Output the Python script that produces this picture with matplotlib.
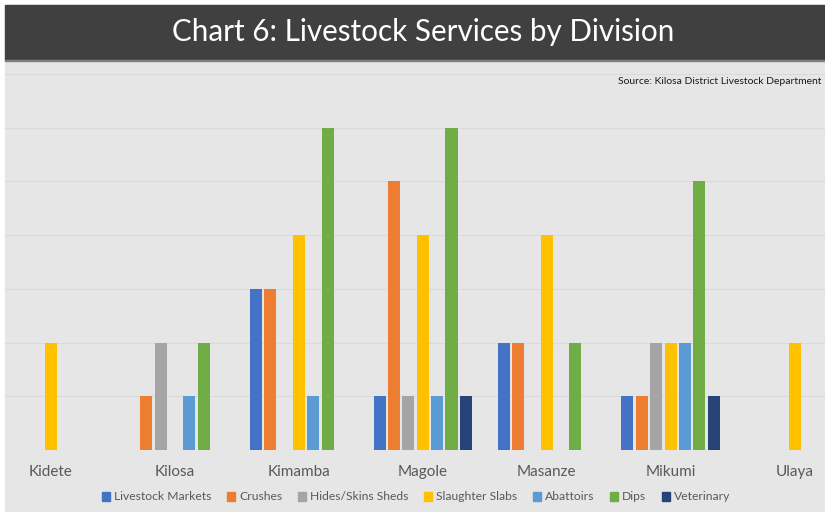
import matplotlib.pyplot as plt
from matplotlib.patches import Rectangle, Patch
import numpy as np

divisions = ['Kidete', 'Kilosa', 'Kimamba', 'Magole', 'Masanze', 'Mikumi', 'Ulaya']
series_names = ['Livestock Markets', 'Crushes', 'Hides/Skins Sheds', 'Slaughter Slabs',
                'Abattoirs', 'Dips', 'Veterinary']
markets = [0, 0, 3, 1, 2, 1, 0]
crushes = [0, 1, 3, 5, 2, 1, 0]
hides = [0, 2, 0, 1, 0, 2, 0]
slaughter = [2, 0, 4, 4, 4, 2, 2]
abattoirs = [0, 1, 1, 1, 0, 2, 0]
dips = [0, 2, 6, 6, 2, 5, 0]
veterinary = [0, 0, 0, 1, 0, 1, 0]
colors = ['#4472C4', '#ED7D31', '#A5A5A5', '#FFC000', '#5B9BD5', '#70AD47', '#264478']

W, H = 825, 512
fig = plt.figure(figsize=(W / 100, H / 100), dpi=100, facecolor='white')
plt.rcParams['font.family'] = ['Lato', 'DejaVu Sans']

# background panel and title bar (behind the axes)
fig.patches.append(Rectangle((5 / W, 0), 1, (H - 5) / H, transform=fig.transFigure,
                             color='#E6E6E6', zorder=-10))
fig.patches.append(Rectangle((5 / W, (H - 60) / H), 1, 55 / H, transform=fig.transFigure,
                             color='#404040', zorder=-9))
fig.patches.append(Rectangle((5 / W, (H - 61) / H), 1, 1.5 / H, transform=fig.transFigure,
                             color='#7F7F7F', zorder=-9))
fig.text(423 / W, 1 - 32 / H, 'Chart 6: Livestock Services by Division', color='white',
         fontsize=21.3, ha='center', va='center')
fig.text(821 / W, 1 - 81 / H, 'Source: Kilosa District Livestock Department',
         fontsize=7.5, ha='right', va='center', color='#1a1a1a')

ax = fig.add_axes([5 / W, 62 / H, 1 - 5 / W, 388 / H])
ax.set_facecolor('none')
x = np.arange(len(divisions))
width, pitch = 0.097, 0.116
data = [markets, crushes, hides, slaughter, abattoirs, dips, veterinary]
for i, (vals, c) in enumerate(zip(data, colors)):
    ax.bar(x + (i - 3) * pitch, vals, width, color=c, zorder=3)

ax.set_xlim(-0.371, 6.246)
ax.set_ylim(0, 388 / (376 / 7))
for y in range(0, 8):
    ax.axhline(y, color='#DADADA', lw=0.8, zorder=1)
for s in ax.spines.values():
    s.set_visible(False)
ax.set_yticks([])
ax.set_xticks(x)
ax.set_xticklabels(divisions, fontsize=11, color='#595959')
ax.tick_params(axis='x', length=0, pad=11)

handles = [Patch(color=c, label=n) for c, n in zip(colors, series_names)]
fig.legend(handles=handles, loc='center', bbox_to_anchor=(416 / W, 1 - 497 / H), ncol=7,
           frameon=False, fontsize=8.7, handlelength=0.7, handleheight=0.7,
           handletextpad=0.3, columnspacing=1.3, labelcolor='#595959')

fig.savefig('out.png', dpi=100)
